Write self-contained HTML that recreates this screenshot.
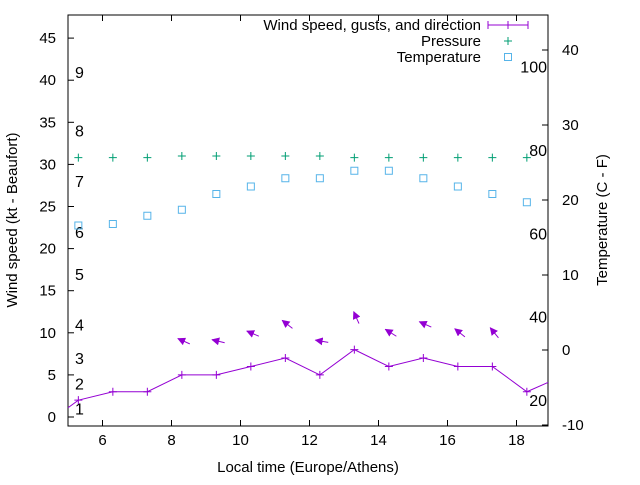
<!DOCTYPE html>
<html><head><meta charset="utf-8"><style>
body{margin:0;background:#fff}
svg text{font-family:"Liberation Sans",sans-serif;fill:#000}
</style></head><body>
<svg id="c" width="640" height="480">
<defs><marker id="ah" viewBox="0 0 10 10" refX="9" refY="5" markerWidth="8" markerHeight="8" markerUnits="userSpaceOnUse" orient="auto"><path d="M0,0L10,5L0,10z" fill="#9400d3"/></marker></defs>
</svg>
<script>
const hours=[5.3,6.3,7.3,8.3,9.3,10.3,11.3,12.3,13.3,14.3,15.3,16.3,17.3,18.3,19.0];
const windKt=[2,3,3,5,5,6,7,5,8,6,7,6,6,3,4.1];
const pressure=[30.8,30.8,30.8,31.0,31.0,31.0,31.0,31.0,30.8,30.8,30.8,30.8,30.8,30.8];
const tempC=[16.6,16.8,17.9,18.7,20.8,21.8,22.9,22.9,23.9,23.9,22.9,21.8,20.8,19.7];
const arrowHours=[8.3,9.3,10.3,11.3,12.3,13.3,14.3,15.3,16.3,17.3];
const arrowKt=[9.0,9.0,9.9,11.0,9.0,11.8,10.0,11.0,10.0,10.0];
const arrowAngle=[156,166,157,142,170,114,148,156,141,129];
const xTicks=[6,8,10,12,14,16,18];
const yTicks=[0,5,10,15,20,25,30,35,40,45];
const y2Ticks=[-10,0,10,20,30,40];
const beaufortKt=[1,4,7,11,17,22,28,34,41];
const beaufortLabels=["1","2","3","4","5","6","7","8","9"];
const fahrenheit=[100,80,60,40,20];

const L=68,R=548,T=15,B=426;
const X=h=>L+(h-5)*34.5;
const Y=k=>417-k*8.42;
const Y2=c=>350-c*7.5;
const svg=document.getElementById('c');
const NS='http://www.w3.org/2000/svg';
function mk(t,a,p){const e=document.createElementNS(NS,t);for(const k in a)e.setAttribute(k,a[k]);(p||svg).appendChild(e);return e;}

let e=mk('rect',{x:L,y:T,width:R-L,height:B-T,fill:'none',stroke:'#000','stroke-width':1});



xTicks.forEach(v=>{
 const x=X(v);
 mk('line',{x1:x,y1:B,x2:x,y2:B-6,stroke:'#000'});
 mk('line',{x1:x,y1:T,x2:x,y2:T+6,stroke:'#000'});
 const t=mk('text',{x:x,y:B+19,'text-anchor':'middle','font-size':15});t.textContent=v;
 
 
});
yTicks.forEach(v=>{
 const y=Y(v);
 mk('line',{x1:L,y1:y,x2:L+6,y2:y,stroke:'#000'});
 const t=mk('text',{x:L-12,y:y+5,'text-anchor':'end','font-size':15});t.textContent=v;
 
 
});
y2Ticks.forEach(v=>{
 const y=Y2(v);
 mk('line',{x1:R,y1:y,x2:R-6,y2:y,stroke:'#000'});
 const t=mk('text',{x:R+14,y:y+5,'font-size':15});t.textContent=v;
 
 
});
beaufortKt.forEach((k,i)=>{
 const t=mk('text',{x:75,y:Y(k)+6,'font-size':16});t.textContent=beaufortLabels[i];
 
 
});
fahrenheit.forEach(f=>{
 const t=mk('text',{x:547,y:Y2((f-32)*5/9)+6,'text-anchor':'end','font-size':16});t.textContent=f;
 
 
});

let pts=hours.map((h,i)=>[Math.min(X(h),R),Y(windKt[i])]);
pts.unshift([L,Y(windKt[0]-(windKt[1]-windKt[0])*0.9)]);
e=mk('polyline',{points:pts.map(p=>p.join(',')).join(' '),fill:'none',stroke:'#9400d3','stroke-width':1});


hours.slice(0,14).forEach((h,i)=>{
 const x=X(h),y=Y(windKt[i]);
 e=mk('path',{d:`M${x-4},${y}h8M${x},${y-4}v8`,stroke:'#9400d3'});
 
 
});
arrowHours.forEach((h,i)=>{
 const cx=X(h)+2,cy=Y(arrowKt[i]),a=arrowAngle[i]*Math.PI/180,l=6.5;
 const dx=Math.cos(a)*l,dy=-Math.sin(a)*l;
 e=mk('line',{x1:cx-dx,y1:cy-dy,x2:cx+dx,y2:cy+dy,stroke:'#9400d3','stroke-width':1,'marker-end':'url(#ah)'});
 
 
});
hours.slice(0,14).forEach((h,i)=>{
 const x=X(h),y=Y(pressure[i]);
 e=mk('path',{d:`M${x-4},${y}h8M${x},${y-4}v8`,stroke:'#009e73'});
 
 
});
hours.slice(0,14).forEach((h,i)=>{
 const x=X(h),y=Y2(tempC[i]);
 e=mk('rect',{x:x-3.5,y:y-3.5,width:7,height:7,fill:'none',stroke:'#56b4e9'});
 
 
});

const leg=[["Wind speed, gusts, and direction",25],["Pressure",41],["Temperature",57]];
leg.forEach((l,i)=>{
 const t=mk('text',{x:481,y:l[1]+5,'text-anchor':'end','font-size':15});t.textContent=l[0];
 
 
});
mk('path',{d:'M488,25h40M488,21v8M528,21v8M504,25h8M508,21v8',stroke:'#9400d3',fill:'none'});
mk('path',{d:'M504,41h8M508,37v8',stroke:'#009e73'});
mk('rect',{x:504.5,y:53.5,width:7,height:7,fill:'none',stroke:'#56b4e9'});

let t=mk('text',{x:308,y:472,'text-anchor':'middle','font-size':15});t.textContent='Local time (Europe/Athens)';


t=mk('text',{x:0,y:0,'text-anchor':'middle','font-size':15,transform:'translate(17,220) rotate(-90)'});t.textContent='Wind speed (kt - Beaufort)';


t=mk('text',{x:0,y:0,'text-anchor':'middle','font-size':15,transform:'translate(607,220) rotate(-90)'});t.textContent='Temperature (C - F)';


</script>
</body></html>
